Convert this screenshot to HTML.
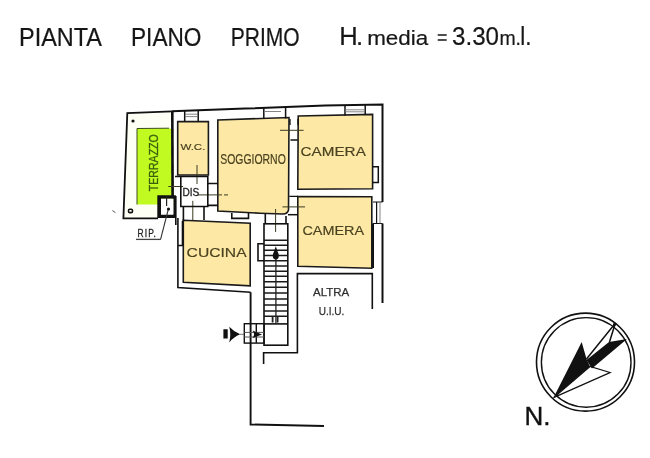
<!DOCTYPE html>
<html><head><meta charset="utf-8">
<style>
html,body{margin:0;padding:0;background:#fff;}
body{width:650px;height:458px;overflow:hidden;}
svg{display:block;will-change:transform;}
text{font-family:"Liberation Sans",sans-serif;}
</style></head>
<body>
<svg width="650" height="458" viewBox="0 0 650 458">
<rect width="650" height="458" fill="#fff"/>
<!-- Title -->
<g fill="#161616" stroke="#161616" stroke-width="0.2" font-size="25.6">
<text x="19" y="46.1" textLength="83" lengthAdjust="spacingAndGlyphs">PIANTA</text>
<text x="131" y="46.1" textLength="70.5" lengthAdjust="spacingAndGlyphs">PIANO</text>
<text x="230.7" y="46" textLength="69" lengthAdjust="spacingAndGlyphs">PRIMO</text>
<text x="339.2" y="45.2" textLength="24">H.</text>
<text x="367.2" y="44.7" font-size="20.5" textLength="61" lengthAdjust="spacingAndGlyphs">media</text>
<path d="M437.7 35 H446.7 M437.7 40 H446.7" stroke-width="1.6" fill="none"/>
<text x="452" y="45.2" textLength="47" lengthAdjust="spacingAndGlyphs">3.30</text>
<text x="499.4" y="44.6" font-size="20.5" textLength="21.6" lengthAdjust="spacingAndGlyphs">m.</text>
<text x="520.3" y="44.8" textLength="11.2" lengthAdjust="spacingAndGlyphs">l.</text>
</g>

<!-- Terrace green -->
<path d="M123.4 218.4 L127.3 113 L172.3 111.3 L172.6 196 L158 196 L158 218.4 Z" fill="#fdfef4"/>
<path d="M137 128.5 L169 128.2 Q173 129 173 133 L173.5 204.5 L137 204.5 Z" fill="#c1fa20"/>
<path d="M137 204.5 L137 128.5 L169 128.2" fill="none" stroke="#2a3a10" stroke-width="0.9"/>
<text transform="translate(157.8,191.2) rotate(-90)" font-size="12.6" fill="#386010" stroke="#386010" stroke-width="0.3" textLength="57" lengthAdjust="spacingAndGlyphs">TERRAZZO</text>

<!-- outer walls -->
<g fill="none" stroke="#111" stroke-width="2" stroke-linejoin="miter">
<path d="M158 218.4 L123.4 218.4 L127.3 113 L172 111.3" stroke-width="1.8"/>
<path d="M172 111.3 L245 108.6 L325 105.6 L382.5 104.6 L382.5 202"/>
<path d="M382.5 223.5 L382.5 303"/>
<path d="M373 223.5 L373 268"/>
<path d="M172.3 111.3 L172.6 196" stroke-width="2.6"/>
</g>

<!-- Rooms -->
<g fill="#fde9a5" stroke="#1a1a1a" stroke-width="1.6">
<path d="M177.7 121.6 L208.4 121.6 L208.4 175 L177.7 175 Z"/>
<path d="M217.8 120 L289 117.5 L288.5 210 Q287.5 214 283 214 L260 213.2 L217.8 211 Z"/>
<path d="M298.2 116 L372.6 114.4 L372.6 188.8 L297.8 189.2 Z"/>
<path d="M297.8 196.6 L371.8 196.8 L371.8 268.3 L297.8 266.3 Z"/>
<path d="M183.3 220.2 L250.2 223.2 L250.2 285.8 L183.3 282.2 Z"/>
</g>

<!-- window & wall details -->
<g fill="none" stroke="#111" stroke-width="1.5">
<!-- window over WC -->
<path d="M184.7 111 V121.6 M198.2 110.6 V121.6"/>
<!-- window over soggiorno -->
<path d="M263.8 108 V118 M285.6 107.2 V118.5"/>
<!-- window over camera1 -->
<path d="M345 105.3 V115.5 M365.2 105 V114.8"/>
<!-- niche camera1 -->
<path d="M372.6 166.7 H378.3 V182.4 H372.6"/>
<!-- right window -->
<path d="M376.6 202 V223.5 M373 223.5 H382.5 M373 202 H382.5" stroke-width="1.2"/>
<!-- soggiorno-camera door marks -->
<path d="M290 119 V125 M298 119 V125 M290.5 140 H297.8 M289.3 196.4 H297.8" stroke-width="1.3"/>
<!-- stair-camera2 wall -->
<path d="M288 214.7 H297.8"/>
</g>
<g fill="none" stroke="#777" stroke-width="0.9">
<path d="M185 114.2 H198 M185 116.6 H198"/>
<path d="M264 111.5 H281"/>
<path d="M345 109.8 H364 M345 111.8 H364"/>
<path d="M380 202 V223.5"/>
</g>
<g fill="none" stroke="#3a3a20" stroke-width="1">
<path d="M280 130.3 H303.6"/>
<path d="M282.5 206.9 H305"/>
<path d="M275.6 209 V232"/>
<path d="M197 165 V184"/>
<path d="M168.3 186.5 H183"/>
<path d="M198 194.9 H218"/>
<path d="M218 194.9 H228" stroke-dasharray="4 2"/>
<path d="M192.8 200.8 V220"/>
</g>

<!-- DIS area walls -->
<g fill="none" stroke="#111" stroke-width="1.6">
<path d="M175 176.5 H207.8 V206.5 H180.8 V176.5"/>
<path d="M175.8 196 V225 M183.4 206.5 V221"/>
<path d="M204 206.5 V220"/>
<path d="M207.8 205.4 H218 M207.8 183.5 H217.8"/>
<path d="M231.8 213 V218.4 H248.5 V213"/>
<path d="M265.3 214 V223.6 M286 216 V223.6"/>
<path d="M177.9 218 V287.5 L250.6 292.3"/>
<path d="M182.5 221 V245.5 M177.9 245.5 H183"/>
</g>

<!-- Room labels -->
<g fill="#4a4220" stroke="#4a4220" stroke-width="0.18">
<text x="180.4" y="150.4" font-size="9.9" textLength="25" lengthAdjust="spacingAndGlyphs">W.C.</text>
<text x="220.2" y="163.7" font-size="14.2" textLength="65.6" lengthAdjust="spacingAndGlyphs">SOGGIORNO</text>
<text x="300.6" y="155.5" font-size="12.8" textLength="65.2" lengthAdjust="spacingAndGlyphs">CAMERA</text>
<text x="302.4" y="235.2" font-size="12.8" textLength="61.6" lengthAdjust="spacingAndGlyphs">CAMERA</text>
<text x="186.6" y="256.9" font-size="12.3" textLength="60" lengthAdjust="spacingAndGlyphs">CUCINA</text>
</g>
<g fill="#1e1e1e" stroke="#1e1e1e" stroke-width="0.3">
<text x="182.5" y="196.2" font-size="10.8" textLength="16.8" lengthAdjust="spacingAndGlyphs">DIS</text>
<text transform="translate(137.6,236.7) scale(0.8,1)" x="0 9 13.2 19.8" y="0" font-size="10.6">RIP.</text>
</g>
<g fill="#2e2e2e" stroke="#2e2e2e" stroke-width="0.25">
<text x="313.1" y="296.3" font-size="10.9" textLength="36.2" lengthAdjust="spacingAndGlyphs">ALTRA</text>
<text x="318.7" y="314.8" font-size="11.2" textLength="25.6" lengthAdjust="spacingAndGlyphs">U.I.U.</text>
</g>

<!-- stairs -->
<g fill="none" stroke="#111" stroke-width="1.6">
<rect x="264" y="223.8" width="23.8" height="121.4"/>
<path d="M264 323.9 H287.8"/>
<path d="M264 243.7 H258 V260.8 H264"/>
</g>
<g stroke="#1a1a1a" stroke-width="1.5">
<path d="M264 240.2 H287.8 M264 245.3 H287.8 M264 250.3 H287.8 M264 255.5 H287.8 M264 260.8 H287.8 M264 265.9 H287.8 M264 271.2 H287.8 M264 276.3 H287.8 M264 281.7 H287.8 M264 287.2 H287.8 M264 293.1 H287.8 M264 298.9 H287.8 M264 304.9 H287.8 M264 310.9 H287.8 M264 316.3 H287.8"/>
</g>
<g stroke="#222" stroke-width="1.3">
<path d="M275.9 259 V324"/>
<path d="M272.6 317 V322.6 M277.6 317 V322.6" stroke-width="1.8"/>
</g>
<path d="M275.8 246.2 Q277.4 251 278.6 254 Q279.6 259 275.8 259.4 Q272 259 273 254 Q274.2 251 275.8 246.2Z" fill="#111"/>

<!-- corridor & altra -->
<g fill="none" stroke="#111" stroke-width="1.6">
<path d="M250.6 292.3 L250.6 424.5 L324 426" stroke-width="1.9"/>
<path d="M372.3 309 L372.3 273.6 L297.4 273.6 L297.4 352.8 L263.6 352.8 L263.6 364"/>
</g>

<!-- entry -->
<g fill="none" stroke="#111" stroke-width="1.4">
<rect x="244.3" y="323.7" width="19.8" height="19.4"/>
<path d="M256.3 323.7 V343.1"/>
</g>
<path d="M244.3 332.4 H264 M244.3 337 H264" stroke="#555" stroke-width="1"/>
<path d="M252.6 330.6 L262 334.4 L252.6 338 Q255.6 334.4 252.6 330.6 Z" fill="#111"/>
<path d="M223.4 329.2 H227.7 V338.6 H223.4 Z M229.3 326.8 Q233.5 331.5 240.2 334.3 Q233.5 337 229.3 342.4 Q231.2 334.5 229.3 326.8 Z" fill="#111"/>
<path d="M240 334.3 H244.3" stroke="#555" stroke-width="0.8"/>

<!-- RIP box -->
<path d="M157.3 195.3 H175.8 V218 H157.3 Z M161 198.8 V214.5 H173.3 V198.8 Z" fill="#111" fill-rule="evenodd"/>
<rect x="161" y="198.8" width="12.3" height="15.7" fill="#fff"/>
<path d="M166.6 196 V206" stroke="#222" stroke-width="1.2"/>
<path d="M136 239.4 H160.5" stroke="#444" stroke-width="1.3"/>
<path d="M160.5 239.6 L168.4 209" stroke="#333" stroke-width="1.1"/>
<circle cx="168.5" cy="209" r="1.6" fill="#111"/>
<circle cx="133" cy="121" r="1.6" fill="#111"/>
<rect x="128.5" y="209.2" width="4" height="3.4" rx="1.4" fill="none" stroke="#111" stroke-width="1.6"/>
<path d="M112.4 210.6 L115.4 212.6" stroke="#555" stroke-width="1"/>

<!-- Compass -->
<g fill="none" stroke="#111">
<circle cx="585.5" cy="362.1" r="49" stroke-width="1.6"/>
<circle cx="586.2" cy="362.4" r="44.8" stroke-width="1.4"/>
</g>
<path d="M553.5 397.7 L581.7 341.9 L586.5 359 L590 366.5 Z" fill="#111"/>
<path d="M553.5 397.7 L590 366.5 L610 372.5 Z" fill="#fff" stroke="#111" stroke-width="1.3"/>
<path d="M586.5 360 L609 342 L627 339 L592 368.5 Z" fill="#111"/>
<path d="M586.5 359 L615.3 323.2 M615.3 323.2 L609.5 342" fill="none" stroke="#111" stroke-width="1.5"/>
<circle cx="614.6" cy="324.3" r="1.6" fill="#111"/>
<text x="524.6" y="424.6" font-size="25" fill="#111" stroke="#111" stroke-width="0.35" textLength="26" lengthAdjust="spacingAndGlyphs">N.</text>
</svg>
</body></html>
